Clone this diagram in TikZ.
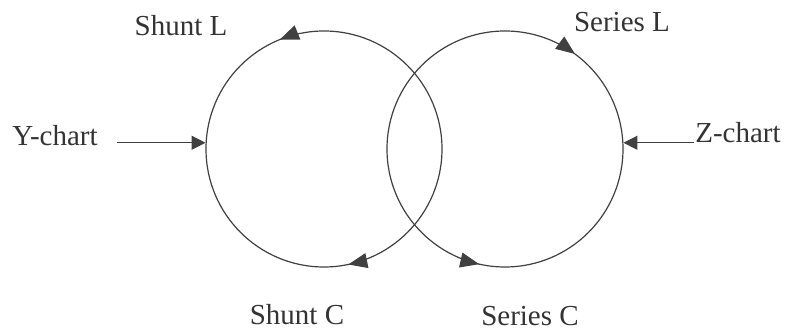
\documentclass[tikz,border=0pt]{standalone}
\usepackage{fontspec}
\setmainfont{Liberation Serif}
\usetikzlibrary{arrows.meta,decorations.markings}

\begin{document}
\begin{tikzpicture}[x=0.5pt,y=0.5pt,
    lbl/.style={font=\fontsize{14.5}{17}\selectfont, text=black!80},
    ring/.style={circle, draw=black!75, line width=0.6pt, minimum size=118pt, inner sep=0pt},
    feed/.style={-{Triangle[length=7pt,width=7pt]}, draw=black!75, line width=0.6pt},
    tipccw/.style={postaction={decorate, decoration={markings,
        mark=at position #1 with {\arrow[black!75]{Triangle[length=9.5pt,width=7.5pt]}}}}},
    tipcw/.style={postaction={decorate, decoration={markings,
        mark=at position #1 with {\arrowreversed[black!75]{Triangle[length=9.5pt,width=7.5pt]}}}}}]
    \useasboundingbox (0,0) rectangle (786,336);
    % die beiden Kreise:
    \node[ring, tipccw=0.311, tipcw=0.783] (left) at (324,187) {}; % Y-Kreis
    \node[ring, tipcw=0.149, tipccw=0.715] (right) at (505,187) {}; % Z-Kreis
    % Beschriftungen:
    \node[lbl] (shuntL) at (181,310) {Shunt L};
    \node[lbl] (seriesL) at (622,314) {Series L};
    \node[lbl] (shuntC) at (297,21) {Shunt C};
    \node[lbl] (seriesC) at (530,20) {Series C};
    \node[lbl] (ychart) at (55,200) {Y-chart};
    \node[lbl] (zchart) at (738,203) {Z-chart};
    % Einspeisung:
\draw[feed, shorten <=6pt] (ychart.east |- left.177) -- (left.177);
\draw[feed, shorten <=-3pt] (zchart.west |- right.3) -- (right.3);
\end{tikzpicture}
\end{document}
